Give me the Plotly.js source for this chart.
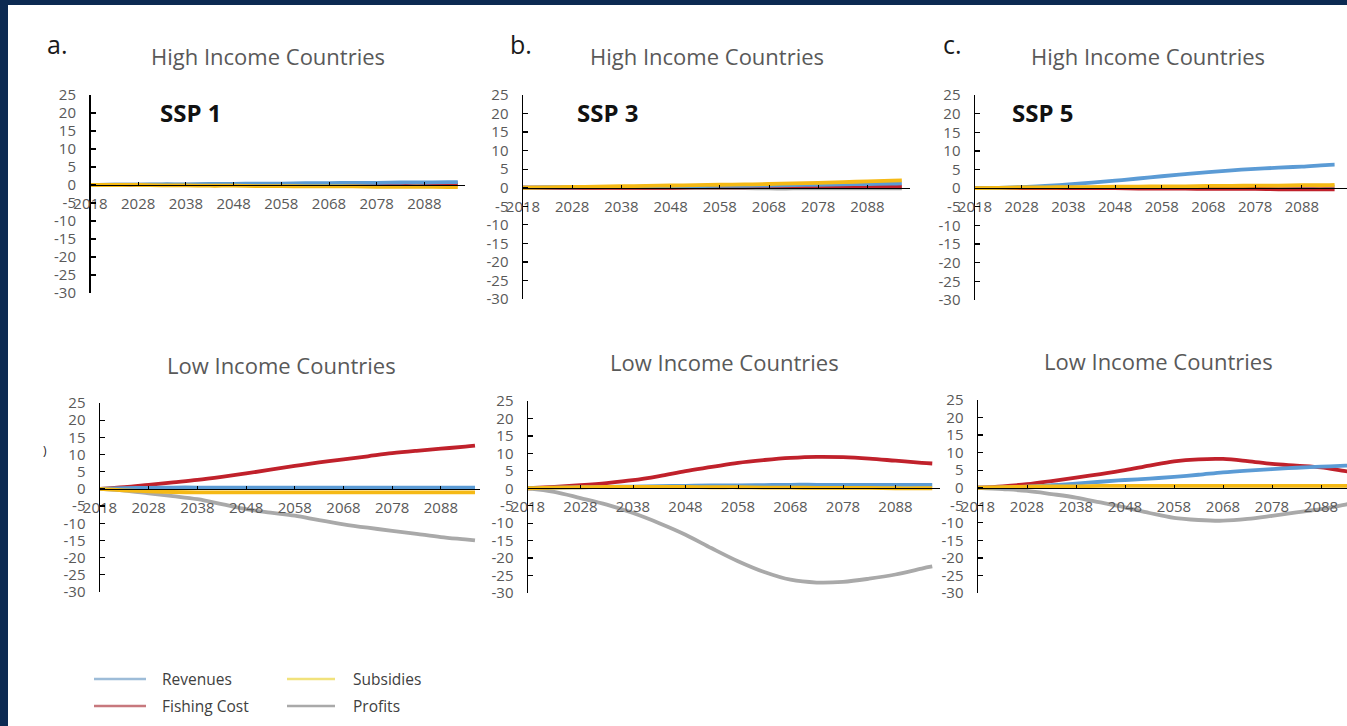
<!DOCTYPE html>
<html>
<head>
<meta charset="utf-8">
<script src="https://cdn.plot.ly/plotly-3.0.1.min.js"></script>
<style>
html,body{margin:0;padding:0;background:#ffffff;}
#chart{width:1347px;height:726px;}
</style>
</head>
<body>
<div id="chart"></div>
<script>
// ---------- DATA ----------
const years = [2018,2023,2028,2033,2038,2043,2048,2053,2058,2063,2068,2073,2078,2083,2088,2093,2095];
const seriesNames = ["Revenues","Fishing Cost","Subsidies","Profits"];
const yTicks = [-30,-25,-20,-15,-10,-5,0,5,10,15,20,25];
const xTicks = [2018,2028,2038,2048,2058,2068,2078,2088];
const panelLetters = ["a.","b.","c."];
const scenarioLabels = ["SSP 1","SSP 3","SSP 5"];
const rowTitles = ["High Income Countries","Low Income Countries"];

// High income, SSP1
const hiSsp1Revenues = [0,0.1,0.1,0.2,0.2,0.3,0.3,0.4,0.4,0.5,0.5,0.6,0.6,0.7,0.7,0.8,0.8];
const hiSsp1Cost     = [0,0,0,0,0,0.1,0.1,0.1,0.1,0.1,0.1,0.1,0.1,0.1,0.1,0.1,0.1];
const hiSsp1Subs     = [0,0,0,-0.1,-0.1,-0.2,-0.2,-0.3,-0.3,-0.4,-0.4,-0.4,-0.5,-0.5,-0.5,-0.6,-0.6];
const hiSsp1Profits  = [0,0.1,0.1,0.1,0.1,0.1,0.2,0.2,0.2,0.3,0.3,0.4,0.4,0.5,0.5,0.6,0.6];
// High income, SSP3
const hiSsp3Revenues = [0,0.1,0.1,0.2,0.2,0.3,0.3,0.4,0.5,0.5,0.6,0.7,0.8,0.9,1.0,1.1,1.2];
const hiSsp3Cost     = [0,0,0,0,0,0,0,0.1,0.1,0.1,0.2,0.2,0.2,0.3,0.3,0.3,0.3];
const hiSsp3Subs     = [0,0.1,0.2,0.3,0.4,0.5,0.6,0.7,0.8,0.9,1.0,1.2,1.3,1.5,1.7,1.9,2.0];
const hiSsp3Profits  = [0,0,0,0,0,-0.1,-0.1,-0.1,-0.1,-0.1,-0.2,-0.2,-0.2,-0.2,-0.2,-0.2,-0.2];
// High income, SSP5
const hiSsp5Revenues = [0,0.1,0.3,0.6,1.0,1.5,2.0,2.6,3.2,3.8,4.3,4.8,5.2,5.5,5.8,6.2,6.3];
const hiSsp5Cost     = [0,0,0,0,0,0,0,-0.1,-0.1,-0.1,-0.2,-0.2,-0.2,-0.3,-0.3,-0.3,-0.3];
const hiSsp5Subs     = [0,0.1,0.2,0.2,0.3,0.3,0.4,0.4,0.5,0.5,0.6,0.6,0.7,0.7,0.8,0.8,0.9];
const hiSsp5Profits  = [0,0,0.1,0.1,0.1,0.2,0.2,0.2,0.3,0.3,0.3,0.3,0.4,0.4,0.4,0.4,0.4];
// Low income, SSP1
const loSsp1Revenues = [0,0.2,0.3,0.4,0.4,0.4,0.4,0.4,0.4,0.4,0.4,0.4,0.4,0.4,0.4,0.4,0.4];
const loSsp1Cost     = [0,0.5,1.2,1.9,2.6,3.5,4.5,5.6,6.7,7.7,8.6,9.5,10.4,11.1,11.7,12.3,12.6];
const loSsp1Subs     = [0,-0.4,-0.7,-0.9,-1.0,-1.0,-1.0,-1.0,-1.0,-1.0,-1.0,-1.0,-1.0,-1.0,-1.0,-1.0,-1.0];
const loSsp1Profits  = [0,-0.5,-1.3,-2.1,-3.0,-4.4,-5.9,-6.9,-7.8,-9.1,-10.3,-11.3,-12.2,-13.1,-14.0,-14.7,-15.0];
// Low income, SSP3
const loSsp3Revenues = [0,0.2,0.3,0.4,0.5,0.6,0.7,0.8,0.8,0.9,1.0,1.0,1.0,1.0,1.0,1.0,1.0];
const loSsp3Cost     = [0,0.4,0.9,1.5,2.3,3.5,4.9,6.1,7.3,8.1,8.7,9.0,8.9,8.5,7.9,7.3,7.1];
const loSsp3Subs     = [0,0.2,0.3,0.4,0.4,0.4,0.4,0.3,0.3,0.2,0.2,0.1,0.1,0.1,0,0,0];
const loSsp3Profits  = [0,-1.0,-2.8,-4.7,-7.1,-10.0,-13.3,-17.2,-20.9,-24.0,-26.2,-27.0,-26.8,-25.9,-24.7,-23.0,-22.4];
// Low income, SSP5
const loSsp5Revenues = [0,0.1,0.3,0.7,1.2,1.7,2.2,2.6,3.1,3.7,4.4,4.9,5.3,5.7,6.0,6.3,6.4];
const loSsp5Cost     = [0,0.4,1.0,1.9,2.9,3.9,5.0,6.3,7.5,8.1,8.2,7.6,6.8,6.3,5.8,4.7,4.4];
const loSsp5Subs     = [0,0.2,0.3,0.4,0.4,0.5,0.5,0.5,0.5,0.5,0.5,0.5,0.5,0.5,0.5,0.5,0.5];
const loSsp5Profits  = [0,-0.4,-0.9,-1.8,-2.8,-4.2,-5.6,-7.2,-8.6,-9.2,-9.4,-8.9,-8.0,-7.0,-6.1,-4.8,-4.3];

// ---------- STYLE ----------
const W = 1347, H = 726;
const lineColors = {"Revenues":"#5b9bd5","Fishing Cost":"#c0212b","Subsidies":"#f5b915","Profits":"#a9a9a9"};
const legendColors = {"Revenues":"#9dbcd8","Fishing Cost":"#c7787d","Subsidies":"#f1e27c","Profits":"#a9a9a9"};
const drawOrder = ["Profits","Fishing Cost","Revenues","Subsidies"];
const grayText = "#595959";
const FONT = "Open Sans, sans-serif";

// panel geometry in pixels: axis x, right edge, px per year, y of top (25) and bottom (-30)
const panels = [
  {x0:90.5, x1:465, ppy:4.77, yt:95, yb:293, data:[hiSsp1Revenues,hiSsp1Cost,hiSsp1Subs,hiSsp1Profits]},
  {x0:523,  x1:910, ppy:4.92, yt:95, yb:299, data:[hiSsp3Revenues,hiSsp3Cost,hiSsp3Subs,hiSsp3Profits]},
  {x0:975,  x1:1347,ppy:4.67, yt:95, yb:300, data:[hiSsp5Revenues,hiSsp5Cost,hiSsp5Subs,hiSsp5Profits]},
  {x0:100,  x1:480, ppy:4.87, yt:403,yb:592, data:[loSsp1Revenues,loSsp1Cost,loSsp1Subs,loSsp1Profits]},
  {x0:528,  x1:940, ppy:5.25, yt:401,yb:593, data:[loSsp3Revenues,loSsp3Cost,loSsp3Subs,loSsp3Profits]},
  {x0:978,  x1:1347,ppy:4.90, yt:400,yb:593, data:[loSsp5Revenues,loSsp5Cost,loSsp5Subs,loSsp5Profits]}
];

const px = v => v / W;
const py = v => 1 - v / H;

const traces = [];
const layout = {
  width: W, height: H,
  margin: {l:0, r:0, t:0, b:0},
  paper_bgcolor: "#ffffff",
  plot_bgcolor: "rgba(0,0,0,0)",
  showlegend: false,
  shapes: [],
  annotations: []
};

panels.forEach((p, i) => {
  const n = i + 1;
  const xa = n === 1 ? "x" : "x" + n;
  const ya = n === 1 ? "y" : "y" + n;
  const xKey = n === 1 ? "xaxis" : "xaxis" + n;
  const yKey = n === 1 ? "yaxis" : "yaxis" + n;
  const zeroPx = p.yt + (25 / 55) * (p.yb - p.yt);
  layout[xKey] = {
    domain: [px(p.x0), px(p.x1)],
    range: [2018, 2018 + (p.x1 - p.x0) / p.ppy],
    anchor: "free",
    position: py(zeroPx),
    showgrid: false, zeroline: false,
    showline: true, linecolor: "#000000", linewidth: 1,
    ticks: "inside", ticklen: 3, tickcolor: "#000000", tickwidth: 1,
    tickmode: "array", tickvals: xTicks, ticktext: xTicks.map(String),
    tickfont: {family: FONT, size: 15, color: grayText},
    ticklabelstandoff: 5,
    fixedrange: true
  };
  layout[yKey] = {
    domain: [py(p.yb), py(p.yt)],
    range: [-30, 25],
    anchor: xa,
    position: px(p.x0),
    showgrid: false, zeroline: false,
    showline: true, linecolor: "#000000", linewidth: 1.5,
    ticks: "inside", ticklen: 5, tickcolor: "#000000", tickwidth: 1.2,
    tickmode: "array", tickvals: yTicks, ticktext: yTicks.map(String),
    tickfont: {family: FONT, size: 15, color: grayText},
    ticklabelstandoff: 10,
    fixedrange: true
  };
  drawOrder.forEach(name => {
    const k = seriesNames.indexOf(name);
    traces.push({
      type: "scatter", mode: "lines",
      x: years, y: p.data[k],
      xaxis: xa, yaxis: ya,
      name: name,
      line: {color: lineColors[name], width: 3.8, shape: "spline", smoothing: 1},
      hoverinfo: "skip", cliponaxis: true
    });
  });
});

// row titles
const titleCentersHi = [268, 707, 1148];
const titleCentersLo = [281, 724, 1158];
titleCentersHi.forEach(c => layout.annotations.push({
  xref:"paper", yref:"paper", x:px(c), y:py(56), xanchor:"center", yanchor:"middle",
  text: rowTitles[0], showarrow:false, font:{family:FONT, size:22, color:grayText}
}));
titleCentersLo.forEach((c, i) => layout.annotations.push({
  xref:"paper", yref:"paper", x:px(c), y:py([365,362,361][i]), xanchor:"center", yanchor:"middle",
  text: rowTitles[1], showarrow:false, font:{family:FONT, size:22, color:grayText}
}));
// panel letters
[[57,44],[521,44],[952,44]].forEach((pt, i) => layout.annotations.push({
  xref:"paper", yref:"paper", x:px(pt[0]), y:py(pt[1]), xanchor:"center", yanchor:"middle",
  text: panelLetters[i], showarrow:false, font:{family:FONT, size:25, color:"#1a1a1a"}
}));
// SSP labels
[158, 575, 1010].forEach((x, i) => layout.annotations.push({
  xref:"paper", yref:"paper", x:px(x), y:py(112), xanchor:"left", yanchor:"middle",
  text: "<b>" + scenarioLabels[i] + "</b>", showarrow:false, font:{family:FONT, size:24, color:"#111111"}
}));
// stray fragment of a cropped axis title
layout.annotations.push({
  xref:"paper", yref:"paper", x:px(45), y:py(450), xanchor:"center", yanchor:"middle",
  text: ")", showarrow:false, font:{family:FONT, size:12, color:"#222222"}
});

// legend (drawn manually, two columns)
const legendItems = [
  {name:"Revenues",     lx0:94,  lx1:146, tx:160, y:679},
  {name:"Fishing Cost", lx0:94,  lx1:146, tx:160, y:706},
  {name:"Subsidies",    lx0:287, lx1:335, tx:351, y:679},
  {name:"Profits",      lx0:287, lx1:335, tx:351, y:706}
];
legendItems.forEach(it => {
  layout.shapes.push({type:"line", xref:"paper", yref:"paper",
    x0:px(it.lx0), x1:px(it.lx1), y0:py(it.y), y1:py(it.y),
    line:{color:legendColors[it.name], width:2.5}});
  layout.annotations.push({xref:"paper", yref:"paper", x:px(it.tx), y:py(it.y),
    xanchor:"left", yanchor:"middle", text: it.name, showarrow:false,
    font:{family:FONT, size:15.5, color:"#404040"}});
});

// dark frame strips (left and top)
layout.shapes.push({type:"rect", xref:"paper", yref:"paper", x0:0, x1:px(8), y0:0, y1:1,
  fillcolor:"#0c2a52", line:{width:0}, layer:"above"});
layout.shapes.push({type:"rect", xref:"paper", yref:"paper", x0:0, x1:1, y0:py(5), y1:1,
  fillcolor:"#0c2a52", line:{width:0}, layer:"above"});

Plotly.newPlot("chart", traces, layout, {displayModeBar:false, staticPlot:true});
</script>
</body>
</html>
